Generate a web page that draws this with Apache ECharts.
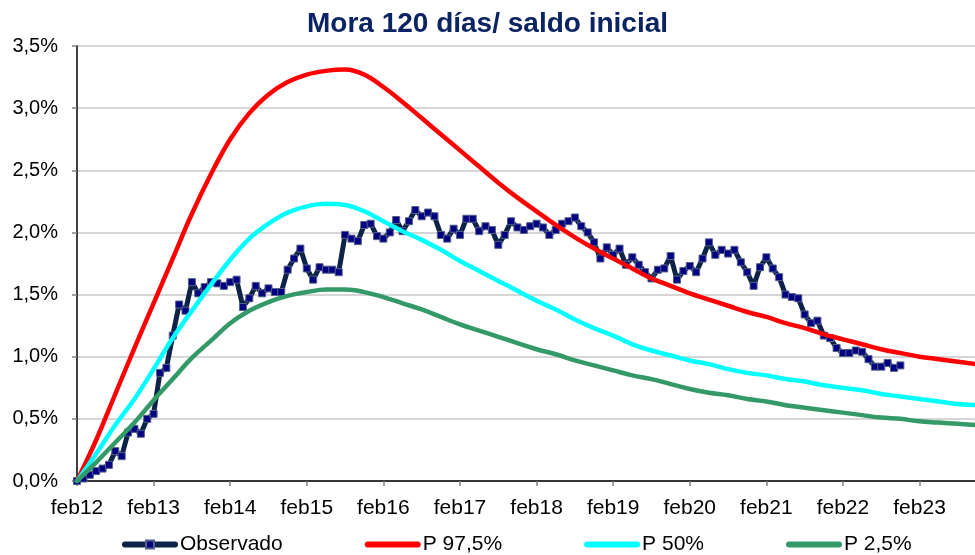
<!DOCTYPE html>
<html>
<head>
<meta charset="utf-8">
<script src="https://cdn.jsdelivr.net/npm/echarts@6/dist/echarts.min.js"></script>
<style>html,body{margin:0;padding:0;background:#fff}#c{width:975px;height:555px}</style>
</head>
<body>
<div id="c"></div>
<script>
// x axis tick labels (one per February, every 12 months)
const tickLabels = ['feb12','feb13','feb14','feb15','feb16','feb17','feb18','feb19','feb20','feb21','feb22','feb23'];
// Observed monthly values (%), starting feb12
const observed = [
0.00,0.02,0.05,0.08,0.10,0.13,0.24,0.20,0.39,0.42,0.38,0.50,
0.54,0.87,0.91,1.17,1.42,1.37,1.60,1.51,1.56,1.60,1.59,1.57,
1.60,1.62,1.40,1.47,1.57,1.51,1.55,1.52,1.52,1.70,1.79,1.87,
1.71,1.62,1.72,1.70,1.70,1.68,1.98,1.95,1.93,2.06,2.07,1.97,
1.95,2.00,2.10,2.01,2.09,2.18,2.13,2.16,2.13,1.98,1.95,2.03,
1.98,2.11,2.11,2.01,2.05,2.02,1.90,1.98,2.09,2.04,2.02,2.05,
2.07,2.04,1.98,2.02,2.07,2.09,2.12,2.05,2.00,1.92,1.79,1.88,
1.82,1.87,1.74,1.80,1.74,1.68,1.63,1.70,1.71,1.81,1.62,1.69,
1.73,1.68,1.79,1.92,1.82,1.86,1.83,1.86,1.76,1.68,1.57,1.72,
1.80,1.71,1.64,1.50,1.48,1.47,1.34,1.27,1.29,1.17,1.15,1.07,
1.03,1.03,1.05,1.04,0.98,0.92,0.92,0.95,0.91,0.93
];
// Month offsets (from feb12) at which the percentile curves were read
const curveMonths = [0,3,6,9,12,15,18,21,24,27,30,33,36,39,42,45,48,51,54,57,60,63,66,69,72,75,78,81,84,87,90,93,96,99,102,105,108,111,114,117,120,123,126,129,132,135,138,141];
const p975 = [0,0.33,0.70,1.07,1.43,1.79,2.15,2.47,2.75,2.96,3.11,3.21,3.27,3.30,3.31,3.27,3.17,3.05,2.92,2.79,2.66,2.53,2.40,2.28,2.17,2.06,1.96,1.87,1.79,1.71,1.63,1.57,1.51,1.46,1.41,1.36,1.32,1.27,1.23,1.18,1.14,1.10,1.06,1.03,1.00,0.98,0.96,0.94];
const p50 = [0,0.22,0.45,0.66,0.90,1.15,1.37,1.58,1.78,1.95,2.07,2.16,2.21,2.23,2.22,2.17,2.09,2.01,1.94,1.86,1.77,1.69,1.61,1.53,1.45,1.38,1.30,1.23,1.17,1.10,1.05,1.01,0.97,0.94,0.90,0.87,0.85,0.82,0.80,0.77,0.75,0.73,0.70,0.68,0.66,0.64,0.62,0.61];
const p25 = [0,0.15,0.31,0.47,0.65,0.82,0.99,1.13,1.27,1.37,1.44,1.49,1.52,1.54,1.54,1.52,1.48,1.43,1.38,1.32,1.26,1.21,1.16,1.11,1.06,1.02,0.97,0.93,0.89,0.85,0.82,0.78,0.74,0.71,0.69,0.66,0.64,0.61,0.59,0.57,0.55,0.53,0.51,0.50,0.48,0.47,0.46,0.45];
const seriesNames = ['Observado','P 97,5%','P 50%','P 2,5%'];
const titleText = 'Mora 120 días/ saldo inicial';

const FONT = "'Liberation Sans', Arial, sans-serif";
const pairs = (xs, ys) => ys.map((v, i) => [xs[i], v]);
const chart = echarts.init(document.getElementById('c'), null, {renderer: 'canvas'});
const curve = (name, xs, ys, color) => ({
  name, type: 'line', data: pairs(xs, ys), smooth: 0.4, showSymbol: false, symbol: 'none',
  lineStyle: {color, width: 4.5, cap: 'round', join: 'round'}, itemStyle: {color}, z: 2
});
chart.setOption({
  animation: false,
  backgroundColor: '#ffffff',
  title: {text: titleText, left: 'center', top: 10, padding: 0,
    textStyle: {fontFamily: FONT, fontSize: 28, fontWeight: 'bold', color: '#0a2463'}},
  grid: {left: 77, right: -2, top: 46, bottom: 74, containLabel: false, outerBoundsMode: 'none'},
  legend: {
    left: 122, top: 534, padding: 0, itemGap: 82, itemWidth: 50, itemHeight: 10,
    textStyle: {fontFamily: FONT, fontSize: 21, color: '#000'},
    lineStyle: {width: 6, cap: 'round'},
    data: [
      {name: seriesNames[0]},
      {name: seriesNames[1], itemStyle: {opacity: 0}},
      {name: seriesNames[2], itemStyle: {opacity: 0}},
      {name: seriesNames[3], itemStyle: {opacity: 0}}
    ]
  },
  xAxis: {
    type: 'value', min: 0, max: 141, interval: 12,
    axisLine: {show: true, onZero: false, lineStyle: {color: '#000', width: 1.5}},
    axisTick: {show: true, length: 5, lineStyle: {color: '#808080', width: 1.5}},
    splitLine: {show: false},
    axisLabel: {fontFamily: FONT, fontSize: 21, color: '#000', margin: 17, showMaxLabel: false,
      formatter: v => (v % 12 === 0 && tickLabels[v / 12]) ? tickLabels[v / 12] : ''}
  },
  yAxis: {
    type: 'value', min: 0, max: 3.5, interval: 0.5,
    axisLine: {show: true, lineStyle: {color: '#000', width: 1.5}},
    axisTick: {show: true, length: 5, lineStyle: {color: '#808080', width: 1.5}},
    splitLine: {show: true, lineStyle: {color: '#c8c8c8', width: 1.5}},
    axisLabel: {fontFamily: FONT, fontSize: 20, color: '#000', margin: 19,
      formatter: v => v.toFixed(1).replace('.', ',') + '%'}
  },
  series: [
    {name: seriesNames[0], type: 'line', data: observed.map((v, i) => [i, v]),
     symbol: 'rect', symbolSize: 7, showAllSymbol: true,
     lineStyle: {color: '#0c2247', width: 5, join: 'round'},
     itemStyle: {color: '#000080', borderColor: '#55608a', borderWidth: 1}, z: 1},
    curve(seriesNames[1], curveMonths, p975, '#ff0000'),
    curve(seriesNames[2], curveMonths, p50, '#00ffff'),
    curve(seriesNames[3], curveMonths, p25, '#339966')
  ]
});
</script>
</body>
</html>
